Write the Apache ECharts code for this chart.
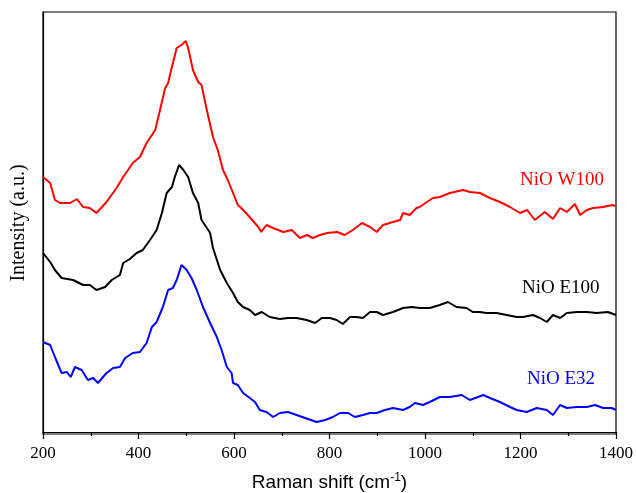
<!DOCTYPE html>
<html lang="en">
<head>
  <meta charset="UTF-8">
  <title>Raman NiO</title>
  <script src="https://cdn.jsdelivr.net/npm/echarts@6.0.0/dist/echarts.min.js"></script>
</head>
<body style="margin:0">
  <div id="main" style="width: 636px; height: 493px;"></div>
  <script>
    // Raman shift (cm-1), intensity in arbitrary units
    var w100 = [
      [200,255],[215,249],[225,232],[236,229],[257,229],[271,233],[284,225],[298,224],[312,219],
      [333,230],[354,244],[368,255],[388,269],[403,275],[417,289],[435,302],[445,322],[456,344],
      [462,349],[470,365],[480,384],[490,387],[499,391],[504,384],[514,362],[525,350],[532,347],
      [543,322],[556,295],[566,282],[577,262],[587,252],[598,239],[608,227],[613,225],[629,217],
      [651,205],[657,200],[668,207],[682,204],[703,200],[721,202],[738,194],[753,197],[765,194],
      [780,197],[795,199],[816,200],[832,197],[849,202],[868,209],[885,205],[899,200],[912,207],
      [933,210],[948,212],[954,219],[968,217],[982,224],[989,225],[1004,230],[1017,234],[1031,235],
      [1052,239],[1080,242],[1094,240],[1115,239],[1136,234],[1157,230],[1178,225],[1199,219],
      [1214,222],[1230,212],[1251,220],[1268,213],[1283,224],[1297,220],[1314,228],[1325,217],
      [1339,222],[1352,224],[1373,225],[1392,227],[1400,226]
    ];
    var e100 = [
      [200,179],[215,170],[225,162],[239,154],[263,152],[284,147],[298,147],[312,142],[330,145],
      [344,152],[361,157],[368,169],[382,173],[396,179],[409,182],[424,192],[438,202],[449,219],
      [459,239],[470,245],[476,255],[485,267],[494,262],[504,255],[514,239],[525,229],[532,212],
      [546,202],[550,199],[556,184],[571,162],[585,149],[598,139],[608,130],[619,125],[633,122],
      [644,117],[658,120],[675,115],[696,113],[713,114],[731,114],[752,112],[770,109],[784,114],
      [801,114],[815,112],[828,108],[843,115],[857,115],[870,114],[885,120],[899,120],[912,117],
      [933,120],[954,124],[972,125],[989,124],[1010,124],[1031,127],[1048,130],[1066,125],[1087,124],
      [1100,120],[1115,120],[1129,119],[1150,119],[1171,117],[1192,115],[1205,115],[1226,117],
      [1241,114],[1255,110],[1268,117],[1283,114],[1297,119],[1318,120],[1339,120],[1359,119],
      [1383,120],[1400,117]
    ];
    var e32 = [
      [200,90],[215,87],[225,75],[239,59],[250,60],[258,55],[267,65],[281,62],[294,52],[305,54],
      [315,49],[333,59],[347,64],[361,65],[372,74],[388,79],[403,80],[417,89],[428,105],[438,110],
      [451,125],[462,142],[472,144],[480,152],[490,167],[501,162],[511,154],[522,142],[535,125],
      [550,109],[564,95],[574,82],[585,65],[595,59],[598,49],[608,47],[619,39],[633,34],[644,30],
      [654,22],[668,20],[682,15],[696,19],[713,20],[731,17],[749,14],[773,10],[791,12],[807,15],
      [822,19],[839,19],[853,15],[870,17],[885,19],[899,19],[916,22],[933,24],[954,22],[968,25],
      [979,29],[996,27],[1010,30],[1031,35],[1052,35],[1077,37],[1094,32],[1122,37],[1136,34],
      [1157,30],[1178,25],[1192,22],[1213,20],[1234,24],[1255,22],[1268,17],[1283,27],[1297,24],
      [1318,25],[1339,25],[1356,27],[1373,24],[1391,24],[1400,22]
    ];
    var names = ['NiO W100', 'NiO E100', 'NiO E32'];
    var colors = ['#ff0000', '#000000', '#0000ff'];

    var myChart = echarts.init(document.getElementById('main'));

    function line(name, data, color) {
      return {
        name: name,
        type: 'line',
        data: data,
        showSymbol: false,
        lineStyle: { color: color, width: 2 },
        animation: false
      };
    }

    var option = {
      grid: {
        left: 43, right: 20, top: 12, bottom: 59,
        outerBoundsMode: 'none', containLabel: false,
        show: true, borderColor: '#000', borderWidth: 1.2, backgroundColor: 'transparent'
      },
      xAxis: {
        type: 'value',
        min: 200, max: 1400, interval: 200,
        name: 'Raman shift (cm{s|-1})',
        nameLocation: 'middle',
        nameGap: 38,
        nameTextStyle: {
          fontFamily: 'Liberation Sans', fontSize: 19, color: '#000',
          rich: { s: { fontFamily: 'Liberation Sans', fontSize: 12, color: '#000', verticalAlign: 'top', padding: [0, 0, 9, 0] } }
        },
        axisLine: { lineStyle: { color: '#000', width: 1.2 } },
        axisTick: { inside: false, length: 7, lineStyle: { color: '#000', width: 1.2 } },
        minorTick: { show: true, splitNumber: 2, length: 4, lineStyle: { color: '#000', width: 1.2 } },
        axisLabel: { fontFamily: 'Liberation Serif', fontSize: 17, color: '#000', margin: 11, formatter: function (v) { return String(v); } },
        splitLine: { show: false }
      },
      yAxis: {
        type: 'value',
        min: -2, max: 420,
        name: 'Intensity (a.u.)',
        nameLocation: 'middle',
        nameGap: 14,
        nameTextStyle: { fontFamily: 'Liberation Serif', fontSize: 20, color: '#000' },
        axisLine: { show: true, lineStyle: { color: '#000', width: 1.2 } },
        axisTick: { show: false },
        axisLabel: { show: false },
        splitLine: { show: false }
      },
      graphic: [
        { type: 'text', left: 520, top: 171, style: { text: names[0], fill: colors[0], font: '19px "Liberation Serif"' } },
        { type: 'text', left: 522, top: 279, style: { text: names[1], fill: colors[1], font: '19px "Liberation Serif"' } },
        { type: 'text', left: 527, top: 370, style: { text: names[2], fill: colors[2], font: '19px "Liberation Serif"' } }
      ],
      series: [
        line(names[0], w100, colors[0]),
        line(names[1], e100, colors[1]),
        line(names[2], e32, colors[2])
      ]
    };

    myChart.setOption(option);
  </script>
</body>
</html>
